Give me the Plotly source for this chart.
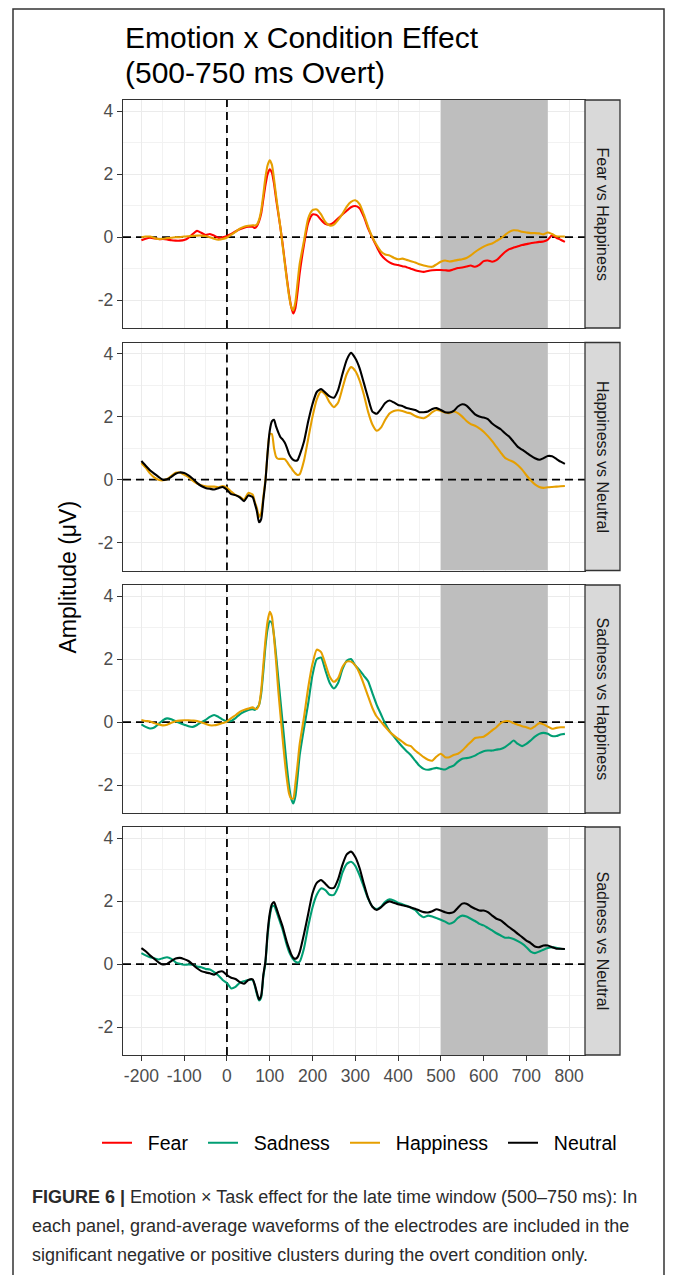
import plotly.graph_objects as go

W, H = 673, 1275

# Sample times (ms): 10 ms steps, 5 ms steps through the fast P1/N1 complex
TIME_MS = list(range(-200, 61, 10)) + list(range(65, 171, 5)) + list(range(180, 791, 10))

# ---- Panel 1: Fear vs Happiness -------------------------------------------
FEAR_P1 = [
    -0.10, -0.05, -0.02, -0.04, -0.06, -0.06, -0.07, -0.10, -0.11, -0.11,
    -0.09, -0.02, 0.10, 0.20, 0.14, 0.07, 0.10, 0.05, -0.02, 0.00,
    0.04, 0.10, 0.18, 0.25, 0.30, 0.33, 0.33,
    0.29, 0.35, 0.50, 0.75, 1.20, 1.65, 2.00, 2.15, 2.05, 1.70, 1.20,
    0.75, 0.30, -0.20, -0.75, -1.30, -1.80, -2.20, -2.42, -2.25, -1.75, -1.15,
    -0.25, 0.45, 0.72, 0.70, 0.55, 0.42, 0.40, 0.47, 0.60, 0.72,
    0.84, 0.95, 0.99, 0.92, 0.65, 0.28, -0.02, -0.30, -0.55, -0.70,
    -0.80, -0.86, -0.88, -0.92, -0.95, -1.00, -1.05, -1.08, -1.10, -1.07,
    -1.05, -1.04, -1.04, -1.05, -1.06, -1.02, -0.98, -0.96, -0.93, -0.90,
    -0.94, -0.88, -0.76, -0.74, -0.78, -0.73, -0.60, -0.47, -0.38, -0.33,
    -0.29, -0.25, -0.22, -0.19, -0.17, -0.15, -0.14, -0.08, 0.06, -0.02,
    -0.08, -0.15,
]
HAPPY_P1 = [
    0.00, 0.02, 0.02, -0.02, -0.06, -0.05, -0.03, -0.02, 0.00, 0.00,
    0.02, 0.03, 0.04, 0.05, 0.05, 0.04, 0.00, -0.05, -0.08, -0.06,
    -0.01, 0.08, 0.17, 0.27, 0.33, 0.36, 0.38,
    0.37, 0.40, 0.55, 0.85, 1.35, 1.90, 2.28, 2.44, 2.30, 1.85, 1.30,
    0.80, 0.30, -0.25, -0.80, -1.35, -1.85, -2.20, -2.32, -2.05, -1.45, -0.85,
    -0.12, 0.60, 0.86, 0.88, 0.72, 0.48, 0.37, 0.40, 0.55, 0.74,
    0.97, 1.12, 1.17, 1.05, 0.72, 0.33, 0.00, -0.25, -0.45, -0.55,
    -0.58, -0.65, -0.70, -0.68, -0.72, -0.76, -0.80, -0.86, -0.90, -0.93,
    -0.94, -0.86, -0.78, -0.74, -0.77, -0.75, -0.72, -0.70, -0.66, -0.58,
    -0.47, -0.38, -0.30, -0.24, -0.20, -0.12, -0.04, 0.07, 0.17, 0.22,
    0.21, 0.17, 0.15, 0.13, 0.13, 0.12, 0.09, 0.15, 0.10, 0.03,
    0.02, 0.02,
]

# ---- Panel 2: Happiness vs Neutral ----------------------------------------
HAPPY_P2 = [
    0.53, 0.38, 0.20, 0.07, 0.00, -0.02, 0.02, 0.12, 0.22, 0.23,
    0.16, 0.08, -0.03, -0.12, -0.18, -0.21, -0.22, -0.22, -0.24, -0.20,
    -0.25, -0.38, -0.49, -0.54, -0.63, -0.42, -0.47,
    -0.70, -0.90, -1.18, -1.05, -0.55, 0.00, 0.85, 1.45, 1.45, 1.00, 0.72,
    0.66, 0.66, 0.66, 0.65, 0.57, 0.47, 0.38, 0.28, 0.20, 0.15, 0.17,
    0.60, 1.30, 2.00, 2.55, 2.80, 2.70, 2.45, 2.30, 2.45, 2.90,
    3.35, 3.57, 3.45, 3.15, 2.70, 2.15, 1.75, 1.55, 1.65, 1.90,
    2.10, 2.18, 2.20, 2.18, 2.13, 2.10, 2.02, 1.97, 1.95, 2.02,
    2.14, 2.21, 2.18, 2.13, 2.11, 2.16, 2.11, 2.00, 1.86, 1.76,
    1.71, 1.63, 1.52, 1.38, 1.22, 1.04, 0.86, 0.69, 0.62, 0.56,
    0.46, 0.32, 0.14, -0.02, -0.15, -0.23, -0.26, -0.24, -0.23, -0.22,
    -0.21, -0.20,
]
NEUTRAL_P2 = [
    0.59, 0.44, 0.30, 0.19, 0.09, 0.00, 0.01, 0.09, 0.19, 0.23,
    0.21, 0.14, 0.03, -0.10, -0.20, -0.26, -0.29, -0.31, -0.27, -0.23,
    -0.32, -0.46, -0.49, -0.56, -0.68, -0.50, -0.55,
    -0.75, -1.00, -1.35, -1.25, -0.65, -0.05, 0.85, 1.55, 1.85, 1.90, 1.68,
    1.50, 1.35, 1.28, 1.18, 1.02, 0.82, 0.70, 0.63, 0.60, 0.62, 0.78,
    1.20, 1.85, 2.40, 2.78, 2.87, 2.76, 2.64, 2.60, 2.85, 3.35,
    3.80, 4.02, 3.85, 3.54, 3.07, 2.59, 2.16, 2.09, 2.24, 2.43,
    2.51, 2.45, 2.37, 2.34, 2.27, 2.24, 2.21, 2.14, 2.14, 2.16,
    2.24, 2.27, 2.21, 2.14, 2.13, 2.18, 2.32, 2.39, 2.35, 2.21,
    2.07, 2.00, 1.97, 1.92, 1.78, 1.68, 1.60, 1.47, 1.36, 1.20,
    1.04, 0.95, 0.86, 0.76, 0.68, 0.63, 0.68, 0.75, 0.74, 0.66,
    0.57, 0.50,
]

# ---- Panel 3: Sadness vs Happiness ----------------------------------------
SAD_P3 = [
    -0.07, -0.15, -0.20, -0.17, -0.06, 0.06, 0.12, 0.09, 0.03, -0.03,
    -0.08, -0.13, -0.15, -0.09, 0.00, 0.07, 0.17, 0.23, 0.17, 0.08,
    0.03, 0.04, 0.13, 0.25, 0.33, 0.39, 0.41,
    0.39, 0.45, 0.55, 0.90, 1.60, 2.40, 2.95, 3.20, 3.15, 2.75, 2.10,
    1.40, 0.70, 0.00, -0.70, -1.40, -2.00, -2.42, -2.58, -2.35, -1.75, -1.05,
    -0.20, 0.60, 1.50, 2.00, 2.05, 1.65, 1.25, 1.07, 1.25, 1.68,
    1.95, 2.00, 1.80, 1.65, 1.47, 1.30, 0.92, 0.55, 0.25, -0.05,
    -0.28, -0.45, -0.62, -0.78, -0.92, -1.05, -1.22, -1.38, -1.48, -1.51,
    -1.48, -1.45, -1.48, -1.50, -1.43, -1.38, -1.25, -1.16, -1.14, -1.11,
    -1.06, -0.98, -0.92, -0.90, -0.90, -0.87, -0.85, -0.79, -0.69, -0.58,
    -0.69, -0.76, -0.69, -0.58, -0.46, -0.37, -0.34, -0.37, -0.44, -0.44,
    -0.39, -0.37,
]
HAPPY_P3 = [
    0.07, 0.04, 0.02, -0.03, -0.07, -0.10, -0.08, -0.02, 0.03, 0.05,
    0.06, 0.06, 0.05, 0.04, 0.00, -0.05, -0.10, -0.10, -0.07, -0.03,
    0.02, 0.13, 0.22, 0.33, 0.39, 0.43, 0.47,
    0.43, 0.42, 0.55, 1.00, 1.80, 2.60, 3.20, 3.50, 3.35, 2.70, 1.90,
    1.00, 0.25, -0.50, -1.20, -1.80, -2.25, -2.42, -2.42, -1.95, -1.35, -0.70,
    0.15, 1.10, 1.85, 2.30, 2.22, 1.85, 1.45, 1.28, 1.40, 1.75,
    1.92, 1.92, 1.80, 1.55, 1.20, 0.82, 0.45, 0.18, 0.02, -0.15,
    -0.30, -0.42, -0.52, -0.62, -0.72, -0.76, -0.90, -1.00, -1.11, -1.19,
    -1.22, -1.09, -1.00, -1.11, -1.11, -1.04, -1.00, -0.90, -0.76, -0.63,
    -0.50, -0.48, -0.46, -0.37, -0.26, -0.16, -0.03, 0.03, 0.03, -0.03,
    -0.08, -0.13, -0.16, -0.21, -0.13, -0.03, -0.07, -0.14, -0.21, -0.18,
    -0.16, -0.16,
]

# ---- Panel 4: Sadness vs Neutral ------------------------------------------
SAD_P4 = [
    0.35, 0.28, 0.22, 0.19, 0.15, 0.19, 0.22, 0.17, 0.06, 0.01,
    -0.02, -0.01, -0.02, -0.07, -0.10, -0.15, -0.17, -0.25, -0.36, -0.50,
    -0.60, -0.77, -0.72, -0.59, -0.54, -0.50, -0.50,
    -0.68, -0.95, -1.15, -1.05, -0.40, 0.05, 0.90, 1.50, 1.82, 1.85, 1.70,
    1.50, 1.30, 1.10, 0.85, 0.60, 0.40, 0.26, 0.15, 0.08, 0.05, 0.08,
    0.50, 1.20, 1.80, 2.20, 2.40, 2.35, 2.20, 2.20, 2.45, 2.90,
    3.18, 3.25, 3.12, 2.82, 2.45, 2.08, 1.83, 1.75, 1.82, 1.98,
    2.06, 2.02, 1.95, 1.90, 1.85, 1.79, 1.72, 1.57, 1.49, 1.54,
    1.51, 1.46, 1.41, 1.35, 1.28, 1.33, 1.47, 1.54, 1.51, 1.44,
    1.37, 1.28, 1.23, 1.15, 1.07, 0.98, 0.91, 0.84, 0.84, 0.80,
    0.73, 0.65, 0.54, 0.40, 0.35, 0.40, 0.46, 0.51, 0.54, 0.52,
    0.49, 0.48,
]
NEUTRAL_P4 = [
    0.51, 0.41, 0.28, 0.17, 0.06, -0.01, 0.01, 0.10, 0.18, 0.20,
    0.16, 0.10, -0.01, -0.13, -0.22, -0.26, -0.29, -0.33, -0.25, -0.23,
    -0.35, -0.43, -0.47, -0.57, -0.62, -0.50, -0.48,
    -0.65, -0.90, -1.12, -1.00, -0.35, 0.10, 1.00, 1.60, 1.90, 1.97, 1.80,
    1.60, 1.40, 1.20, 0.95, 0.70, 0.50, 0.32, 0.20, 0.17, 0.22, 0.38,
    0.95, 1.60, 2.25, 2.58, 2.67, 2.55, 2.42, 2.42, 2.70, 3.15,
    3.48, 3.57, 3.40, 3.05, 2.55, 2.10, 1.82, 1.72, 1.80, 1.93,
    1.99, 1.95, 1.90, 1.87, 1.84, 1.80, 1.76, 1.70, 1.65, 1.64,
    1.68, 1.74, 1.70, 1.65, 1.62, 1.65, 1.79, 1.92, 1.92, 1.83,
    1.76, 1.70, 1.70, 1.65, 1.54, 1.44, 1.39, 1.28, 1.17, 1.07,
    0.96, 0.86, 0.75, 0.67, 0.56, 0.54, 0.59, 0.59, 0.54, 0.49,
    0.49, 0.48,
]

PANELS = [
    ("Fear vs Happiness", [("Fear", FEAR_P1), ("Happiness", HAPPY_P1)]),
    ("Happiness vs Neutral", [("Happiness", HAPPY_P2), ("Neutral", NEUTRAL_P2)]),
    ("Sadness vs Happiness", [("Sadness", SAD_P3), ("Happiness", HAPPY_P3)]),
    ("Sadness vs Neutral", [("Sadness", SAD_P4), ("Neutral", NEUTRAL_P4)]),
]

EMOTIONS = ["Fear", "Sadness", "Happiness", "Neutral"]
COLORS = {"Fear": "#FF0000", "Sadness": "#009E73",
          "Happiness": "#E69F00", "Neutral": "#000000"}

X_TICKS = [-200, -100, 0, 100, 200, 300, 400, 500, 600, 700, 800]
X_TICK_TEXT = ["-200", "-100", "0", "100", "200", "300", "400", "500", "600", "700", "800"]
X_MINOR = [-150, -50, 50, 150, 250, 350, 450, 550, 650, 750]
Y_TICKS = [-2, 0, 2, 4]
Y_TICK_TEXT = ["-2", "0", "2", "4"]
Y_MINOR = [-1, 1, 3]
X_RANGE = [-243, 837]
Y_RANGE = [-2.88, 4.35]
WINDOW_MS = (500, 750)

FONT = "Liberation Sans, Arial, sans-serif"

for name, series in PANELS:
    for emo, vals in series:
        if len(vals) != len(TIME_MS):
            raise ValueError(f"{name}/{emo}: {len(vals)} values for {len(TIME_MS)} samples")


def px_x(px):
    return px / W


def px_y(py):
    return 1 - py / H


# panel geometry in pixels
PANEL_LEFT, PANEL_RIGHT = 123, 585
STRIP_RIGHT = 620
PANEL_TOPS = [100, 342.5, 585, 827]
PANEL_H = 228

fig = go.Figure()
layout = dict(
    width=W, height=H, autosize=False,
    margin=dict(l=0, r=0, t=0, b=0),
    paper_bgcolor="white", plot_bgcolor="white",
    font=dict(family=FONT, color="#000000"),
    shapes=[], annotations=[],
)

legend_slot = {"Fear": "legend", "Sadness": "legend2",
               "Happiness": "legend3", "Neutral": "legend4"}
legend_left_px = {"Fear": 97, "Sadness": 203, "Happiness": 345, "Neutral": 503}
# gap between key line and label
KEY_PAD = "\u00a0\u00a0"
shown = set()

REF_LINE = dict(color="#000000", width=1.8, dash="8px,5px")

n_panels = len(PANELS)
for i, (strip_label, series) in enumerate(PANELS):
    k = i + 1
    xa = "x" if k == 1 else f"x{k}"
    ya = "y" if k == 1 else f"y{k}"
    top = PANEL_TOPS[i]
    bottom = top + PANEL_H
    y_dom = [px_y(bottom), px_y(top)]
    is_bottom = (k == n_panels)

    layout[f"xaxis{'' if k == 1 else k}"] = dict(
        domain=[px_x(PANEL_LEFT), px_x(PANEL_RIGHT)], anchor=ya,
        range=X_RANGE, tickmode="array", tickvals=X_TICKS, ticktext=X_TICK_TEXT,
        showticklabels=is_bottom, ticks="outside" if is_bottom else "",
        ticklen=5, tickwidth=1.2, tickcolor="#333333",
        tickfont=dict(size=17.5, color="#4D4D4D", family=FONT),
        showgrid=True, gridcolor="#EBEBEB", gridwidth=1.4,
        minor=dict(tickmode="array", tickvals=X_MINOR, showgrid=True,
                   gridcolor="#F2F2F2", gridwidth=0.9, ticks=""),
        zeroline=False, showline=True, mirror=True,
        linecolor="#333333", linewidth=1.3,
        matches=None if k == 1 else "x",
    )
    layout[f"yaxis{'' if k == 1 else k}"] = dict(
        domain=y_dom, anchor=xa, range=Y_RANGE,
        tickmode="array", tickvals=Y_TICKS, ticktext=Y_TICK_TEXT,
        ticks="outside", ticklen=5, tickwidth=1.2, tickcolor="#333333",
        tickfont=dict(size=17.5, color="#4D4D4D", family=FONT),
        showgrid=True, gridcolor="#EBEBEB", gridwidth=1.4,
        minor=dict(tickmode="array", tickvals=Y_MINOR, showgrid=True,
                   gridcolor="#F2F2F2", gridwidth=0.9, ticks=""),
        zeroline=False, showline=True, mirror=True,
        linecolor="#333333", linewidth=1.3,
    )

    # significant time window (drawn over the grid, under the waveforms)
    fig.add_trace(go.Scatter(
        x=[WINDOW_MS[0], WINDOW_MS[1], WINDOW_MS[1], WINDOW_MS[0], WINDOW_MS[0]],
        y=[Y_RANGE[0], Y_RANGE[0], Y_RANGE[1], Y_RANGE[1], Y_RANGE[0]],
        mode="lines", fill="toself", fillcolor="#BEBEBE", line=dict(width=0),
        xaxis=xa, yaxis=ya, showlegend=False, hoverinfo="skip",
    ))
    # reference lines at 0 µV and stimulus onset
    fig.add_trace(go.Scatter(
        x=X_RANGE, y=[0, 0], mode="lines", line=REF_LINE,
        xaxis=xa, yaxis=ya, showlegend=False, hoverinfo="skip",
    ))
    fig.add_trace(go.Scatter(
        x=[0, 0], y=Y_RANGE, mode="lines", line=REF_LINE,
        xaxis=xa, yaxis=ya, showlegend=False, hoverinfo="skip",
    ))

    # facet strip on the right
    layout["shapes"].append(dict(
        type="rect", layer="above", xref="paper", yref="paper",
        x0=px_x(PANEL_RIGHT), x1=px_x(STRIP_RIGHT), y0=y_dom[0], y1=y_dom[1],
        fillcolor="#D9D9D9", line=dict(color="#333333", width=1.3),
    ))
    layout["annotations"].append(dict(
        xref="paper", yref="paper",
        x=px_x((PANEL_RIGHT + STRIP_RIGHT) / 2), y=(y_dom[0] + y_dom[1]) / 2,
        text=strip_label, textangle=90, showarrow=False,
        font=dict(size=16, color="#1A1A1A", family=FONT),
        xanchor="center", yanchor="middle",
    ))

    for emo in EMOTIONS:
        for name, vals in series:
            if name != emo:
                continue
            first = emo not in shown
            shown.add(emo)
            fig.add_trace(go.Scatter(
                x=TIME_MS, y=vals, mode="lines", name=KEY_PAD + emo,
                line=dict(color=COLORS[emo], width=2.1, shape="spline", smoothing=0.6),
                xaxis=xa, yaxis=ya, showlegend=first,
                legend=legend_slot[emo], legendgroup=emo,
                hoverinfo="skip",
            ))

# one legend entry per emotion, laid out in a row below the panels
for emo in EMOTIONS:
    layout[legend_slot[emo]] = dict(
        x=px_x(legend_left_px[emo]), xanchor="left",
        y=px_y(1143), yanchor="middle",
        orientation="h", itemwidth=30, borderwidth=0,
        bgcolor="rgba(0,0,0,0)",
        font=dict(size=19.5, color="#000000", family=FONT),
    )

# title
layout["annotations"].append(dict(
    xref="paper", yref="paper", x=px_x(123), y=px_y(38),
    xanchor="left", yanchor="middle", showarrow=False,
    text="Emotion x Condition Effect", font=dict(size=30, color="#000000", family=FONT),
))
layout["annotations"].append(dict(
    xref="paper", yref="paper", x=px_x(123), y=px_y(72),
    xanchor="left", yanchor="middle", showarrow=False,
    text="(500-750 ms Overt)", font=dict(size=30, color="#000000", family=FONT),
))

# y-axis title shared by all panels
layout["annotations"].append(dict(
    xref="paper", yref="paper", x=px_x(68),
    y=px_y((PANEL_TOPS[0] + PANEL_TOPS[-1] + PANEL_H) / 2),
    xanchor="center", yanchor="middle", showarrow=False, textangle=-90,
    text="Amplitude (\u03bcV)", font=dict(size=23, color="#000000", family=FONT),
))

# figure caption
CAPTION_LINES = [
    "<b>FIGURE 6 |</b> Emotion \u00d7 Task effect for the late time window (500\u2013750 ms): In",
    "each panel, grand-average waveforms of the electrodes are included in the",
    "significant negative or positive clusters during the overt condition only.",
]
for j, line in enumerate(CAPTION_LINES):
    layout["annotations"].append(dict(
        xref="paper", yref="paper", x=px_x(30), y=px_y(1197 + 29 * j),
        xanchor="left", yanchor="middle", showarrow=False,
        text=line, font=dict(size=18, color="#2B2B2B", family=FONT),
    ))

# outer frame around the figure
layout["shapes"].append(dict(
    type="rect", layer="above", xref="paper", yref="paper",
    x0=px_x(13), x1=px_x(664), y0=-0.01, y1=px_y(9),
    fillcolor="rgba(0,0,0,0)", line=dict(color="#333333", width=1.5),
))

fig.update_layout(**layout)
fig.write_html("out.html")
